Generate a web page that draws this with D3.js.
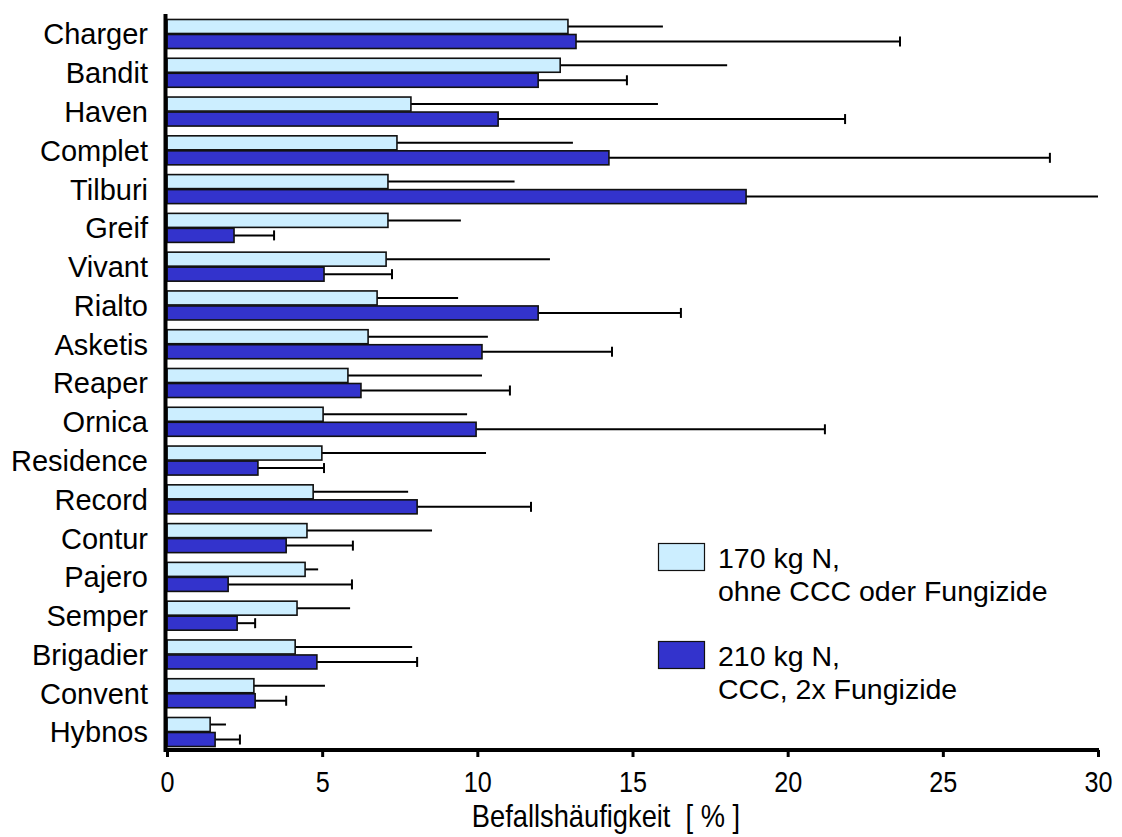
<!DOCTYPE html>
<html><head><meta charset="utf-8">
<script src="https://cdn.jsdelivr.net/npm/d3@7"></script>
<style>body{margin:0;background:#fff}svg{display:block}text{font-family:"Liberation Sans",Arial,sans-serif;fill:#000}</style>
</head><body><svg id="c" width="1122" height="837"></svg>
<script>
const categories = ["Charger","Bandit","Haven","Complet","Tilburi","Greif","Vivant","Rialto","Asketis","Reaper","Ornica","Residence","Record","Contur","Pajero","Semper","Brigadier","Convent","Hybnos"];
const series1Name = ["170 kg N,","ohne CCC oder Fungizide"];
const series2Name = ["210 kg N,","CCC, 2x Fungizide"];
const values1 = [12.92,12.67,7.86,7.41,7.12,7.12,7.06,6.77,6.48,5.83,5.03,4.99,4.71,4.51,4.45,4.19,4.13,2.80,1.39];
const errTop1 = [15.98,18.05,15.82,13.08,11.2,9.47,12.34,9.38,10.34,10.15,9.67,10.28,7.77,8.54,4.87,5.9,7.9,5.09,1.90];
const values2 = [13.18,11.96,10.67,14.24,18.66,2.16,5.06,11.96,10.15,6.25,9.96,2.93,8.06,3.84,1.97,2.26,4.83,2.84,1.55];
const errTop2 = [23.62,14.82,21.85,28.45,30.3,3.45,7.25,16.56,14.34,11.05,21.2,5.06,11.73,5.99,5.96,2.84,8.06,3.84,2.35];
const xTicks = [0,5,10,15,20,25,30];
const xTitle = "Befallshäufigkeit\u00A0\u00A0[ % ]";
const colors = ["#CCEEFF","#3333CC"];

const svg = d3.select("#c");
const x = d3.scaleLinear().domain([0,30]).range([167,1098]);
const y = d3.scaleBand().domain(categories).range([14.6,751.4]).paddingInner(0.226).paddingOuter(0.113);
const sub = d3.scaleBand().domain([0,1]).range([0,y.bandwidth()]);

const rows = categories.map((c,i)=>({c, s:[{v:values1[i],e:errTop1[i],k:0},{v:values2[i],e:errTop2[i],k:1}]}));

const g = svg.append("g");
const grp = g.selectAll("g.cat").data(rows).join("g").attr("transform",d=>`translate(0,${y(d.c)})`);
grp.selectAll("line.err").data(d=>d.s).join("line")
  .attr("x1",d=>x(d.v)).attr("x2",d=>x(Math.min(d.e,30)))
  .attr("y1",d=>sub(d.k)+sub.bandwidth()/2).attr("y2",d=>sub(d.k)+sub.bandwidth()/2)
  .attr("stroke","#000").attr("stroke-width",2);
grp.selectAll("line.cap").data(d=>d.s.filter(s=>s.k===1 && s.e<=30)).join("line")
  .attr("x1",d=>x(d.e)).attr("x2",d=>x(d.e))
  .attr("y1",d=>sub(d.k)+sub.bandwidth()/2-5).attr("y2",d=>sub(d.k)+sub.bandwidth()/2+5)
  .attr("stroke","#000").attr("stroke-width",2);
grp.selectAll("rect").data(d=>d.s).join("rect")
  .attr("x",x(0)).attr("width",d=>x(d.v)-x(0))
  .attr("y",d=>sub(d.k)+0.5).attr("height",sub.bandwidth()-1)
  .attr("fill",d=>colors[d.k]).attr("stroke","#111").attr("stroke-width",1.6);

g.selectAll("text.cat").data(categories).join("text")
  .attr("x",148).attr("y",d=>y(d)+y.bandwidth()/2).attr("dy","0.36em")
  .attr("text-anchor","end").attr("font-size",29).text(d=>d);

const xAxis = svg.append("g").attr("transform","translate(0,750)")
  .call(d3.axisBottom(x).tickValues(xTicks).tickSize(7).tickFormat(d3.format("d")));
xAxis.select(".domain").attr("stroke","#000").attr("stroke-width",4).attr("d",`M${x(0)-3},0H${x(30)+1}`);
xAxis.selectAll(".tick line").attr("stroke","#000").attr("stroke-width",3);
xAxis.selectAll(".tick text").attr("font-size",30).attr("y",0).attr("dy",0)
  .attr("transform","translate(0,42) scale(0.84,1)").attr("text-anchor","middle");
const yAxis = svg.append("g").attr("transform",`translate(${x(0)-1.5},0)`)
  .call(d3.axisLeft(y).tickSize(0).tickFormat(""));
yAxis.select(".domain").attr("stroke","#000").attr("stroke-width",4).attr("d","M0,14V752");

svg.append("text").attr("transform","translate(606,827) scale(0.88,1)")
  .attr("text-anchor","middle").attr("font-size",31).text(xTitle);

const leg = svg.append("g");
[series1Name,series2Name].forEach((nm,i)=>{
  const ly = 543 + i*98;
  leg.append("rect").attr("x",658.5).attr("y",ly+0.5).attr("width",46).attr("height",27)
    .attr("fill",colors[i]).attr("stroke","#111").attr("stroke-width",1.2);
  leg.append("text").attr("x",718).attr("y",ly+25).attr("font-size",28.5).text(nm[0]);
  leg.append("text").attr("x",718).attr("y",ly+58).attr("font-size",28.5).text(nm[1]);
});
</script></body></html>
